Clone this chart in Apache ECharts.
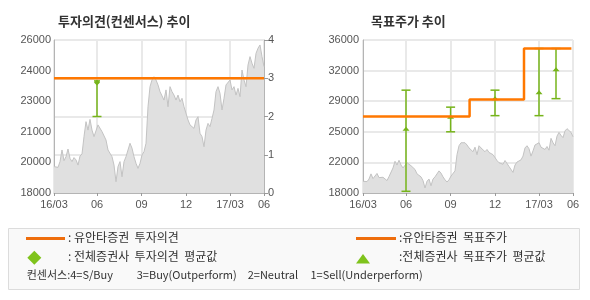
<!DOCTYPE html>
<html><head><meta charset="utf-8">
<script src="https://cdn.jsdelivr.net/npm/echarts@6/dist/echarts.min.js"></script>
<style>html,body{margin:0;padding:0;background:#fff}#c{width:590px;height:300px}</style>
</head><body><div id="c"></div>
<script>
const titles = ['투자의견(컨센서스) 추이', '목표주가 추이'];
const xTickPos = [0, 21.5, 43.8, 66, 88, 105];
const xTickLabels = ['16/03', '06', '09', '12', '17/03', '06'];
const leftPriceTicks = ['18000', '20000', '21000', '23000', '24000', '26000'];
const opinionTicks = ['0', '1', '2', '3', '4'];
const rightPriceTicks = ['18000', '22000', '25000', '29000', '32000', '36000'];
const prices = [
 19380,19460,19340,19640,20250,19690,19900,20300,19810,19640,19850,19730,19460,19930,20040,20950,
 21730,21290,21850,21290,20950,20980,21560,21470,21210,21120,20770,20250,20160,19900,19460,18590,
 19380,19640,18850,19640,19900,19990,20600,20340,19900,19550,19290,19550,19990,20160,20600,22510,
 23560,23910,24080,23910,23650,23300,23210,22860,23390,22510,23560,23300,23120,22860,23120,22770,
 22950,22510,22600,21820,21560,21470,21380,21820,21990,21120,20950,20420,21290,21640,21470,21900,
 22340,23300,23560,23210,22340,22950,23650,23560,23910,23390,23560,23120,23470,23040,24430,23910,
 23560,24690,25130,24780,24520,25300,25570,25740,25130,24610
];
const opinionLevel = [3];
const opinionSpan = [0, 105];
const consensusX = [21.5];
const consensusLow = [2];
const consensusHigh = [2.93];
const consensusAvg = [2.89];
const targetX = [0, 53.3, 80.5, 104.2];
const targetPrice = [27000, 29000, 35000];
const avgTargetX = [21.5, 43.8, 66, 88, 96.5];
const avgTargetLow = [18200, 25200, 27100, 27100, 29100];
const avgTargetHigh = [30100, 28100, 30100, 35000, 35000];
const avgTargetMean = [25500, 26900, 29100, 29800, 32500];

const ORANGE = '#ff7800', GREEN = '#76b41a', AXIS = '#b4b4b4', GRIDC = '#e9e9e9', LBL = '#555';
const numFont = 'Liberation Sans';
const krFont = '"Noto Sans CJK KR"';

const priceData = prices.map((v, i) => [i, v]);
const opinionData = opinionSpan.map(x => [x, opinionLevel[0]]);
const stepData = [];
targetPrice.forEach((p, i) => { stepData.push([targetX[i], p]); stepData.push([targetX[i + 1], p]); });
const consData = consensusX.map((x, i) => [x, consensusLow[i], consensusHigh[i], consensusAvg[i]]);
const tgtData = avgTargetX.map((x, i) => [x, avgTargetLow[i], avgTargetHigh[i], avgTargetMean[i]]);

function xAxisDef(gi) {
  return {
    type: 'value', gridIndex: gi, min: 0, max: 105,
    axisLine: { show: true, lineStyle: { color: AXIS } },
    axisTick: { show: true, customValues: xTickPos, length: 3, lineStyle: { color: '#999' } },
    axisLabel: { customValues: xTickPos, margin: 6, color: LBL, fontSize: 11, fontFamily: numFont,
      formatter: v => xTickLabels[xTickPos.indexOf(v)] },
    splitLine: { show: true, lineStyle: { color: GRIDC, width: 2 } }
  };
}

function errRender(shape) {
  return function (params, api) {
    const x = api.value(0), lo = api.value(1), hi = api.value(2), m = api.value(3);
    const a = api.coord([x, lo]), b = api.coord([x, hi]), c = api.coord([x, m]);
    const st = { stroke: GREEN, lineWidth: 1.5, fill: null };
    const topW = shape === 'diamond' ? 3 : 4.5;
    const kids = [
      { type: 'line', shape: { x1: a[0], y1: a[1], x2: b[0], y2: b[1] }, style: st },
      { type: 'line', shape: { x1: a[0] - 4.5, y1: a[1], x2: a[0] + 4.5, y2: a[1] }, style: st },
      { type: 'line', shape: { x1: b[0] - topW, y1: b[1], x2: b[0] + topW, y2: b[1] }, style: st }
    ];
    if (shape === 'diamond') {
      kids.push({ type: 'polygon', shape: { points: [[c[0], c[1] - 3], [c[0] + 3, c[1]], [c[0], c[1] + 3], [c[0] - 3, c[1]]] }, style: { fill: GREEN } });
    } else {
      kids.push({ type: 'polygon', shape: { points: [[c[0] - 3.5, c[1] + 1.5], [c[0] + 3.5, c[1] + 1.5], [c[0], c[1] - 2.5]] }, style: { fill: GREEN } });
    }
    return { type: 'group', children: kids };
  };
}

const txt = (x, y, s, size) => ({ type: 'text', left: x, top: y - size / 2 - 1,
  style: { text: s, fill: '#333', font: `${size}px ${krFont}` } });

const option = {
  animation: false,
  title: [
    { text: titles[0], left: 53, top: 10, textStyle: { fontSize: 13, fontWeight: 'bold', color: '#333', fontFamily: krFont } },
    { text: titles[1], left: 366, top: 10, textStyle: { fontSize: 13, fontWeight: 'bold', color: '#333', fontFamily: krFont } }
  ],
  grid: [
    { left: 54, top: 40, width: 210, height: 153, show: true, borderColor: AXIS, borderWidth: 1, backgroundColor: '#fff' },
    { left: 363, top: 40, width: 210, height: 153, show: true, borderColor: AXIS, borderWidth: 1, backgroundColor: '#fff' }
  ],
  xAxis: [xAxisDef(0), xAxisDef(1)],
  yAxis: [
    { type: 'value', gridIndex: 0, min: 18000, max: 26000, interval: 1600, position: 'left',
      axisLine: { show: true, lineStyle: { color: AXIS } }, axisTick: { show: false },
      axisLabel: { margin: 3, color: LBL, fontSize: 11, fontFamily: numFont, formatter: (v, i) => leftPriceTicks[i] },
      splitLine: { show: false } },
    { type: 'value', gridIndex: 0, min: 0, max: 4, interval: 1, position: 'right',
      axisLine: { show: true, lineStyle: { color: AXIS } }, axisTick: { show: true, length: 4, lineStyle: { color: '#999' } },
      axisLabel: { margin: 4, color: LBL, fontSize: 11, fontFamily: numFont, formatter: (v, i) => opinionTicks[i] },
      splitLine: { show: true, lineStyle: { color: GRIDC, width: 2 } } },
    { type: 'value', gridIndex: 1, min: 18000, max: 36000, interval: 3600, position: 'left',
      axisLine: { show: true, lineStyle: { color: AXIS } }, axisTick: { show: false },
      axisLabel: { margin: 4, color: LBL, fontSize: 11, fontFamily: numFont, formatter: (v, i) => rightPriceTicks[i] },
      splitLine: { show: true, lineStyle: { color: GRIDC, width: 2 } } }
  ],
  series: [
    { type: 'line', xAxisIndex: 0, yAxisIndex: 0, data: priceData, symbol: 'none',
      lineStyle: { color: '#c3c3c3', width: 1 }, areaStyle: { color: '#e0e0e0', opacity: 1 }, z: 2 },
    { type: 'custom', xAxisIndex: 0, yAxisIndex: 1, data: consData, renderItem: errRender('diamond'), z: 3 },
    { type: 'line', xAxisIndex: 0, yAxisIndex: 1, data: opinionData, symbol: 'none',
      lineStyle: { color: ORANGE, width: 2.5 }, z: 4 },
    { type: 'line', xAxisIndex: 1, yAxisIndex: 2, data: priceData, symbol: 'none',
      lineStyle: { color: '#c3c3c3', width: 1 }, areaStyle: { color: '#e0e0e0', opacity: 1 }, z: 2 },
    { type: 'custom', xAxisIndex: 1, yAxisIndex: 2, data: tgtData, renderItem: errRender('triangle'), z: 3 },
    { type: 'line', xAxisIndex: 1, yAxisIndex: 2, data: stepData, symbol: 'none',
      lineStyle: { color: ORANGE, width: 2.5 }, z: 4 }
  ],
  graphic: [
    { type: 'rect', shape: { x: 8.5, y: 228.5, width: 571, height: 61 }, style: { fill: '#f9f9f9', stroke: '#dcdcdc', lineWidth: 1 } },
    { type: 'line', shape: { x1: 26, y1: 238.5, x2: 65, y2: 238.5 }, style: { stroke: '#ee6d0c', lineWidth: 3 } },
    { type: 'line', shape: { x1: 356, y1: 238.5, x2: 396, y2: 238.5 }, style: { stroke: '#ee6d0c', lineWidth: 3 } },
    { type: 'polygon', shape: { points: [[34.3, 250.7], [41.3, 257.7], [34.3, 264.7], [27.3, 257.7]] }, style: { fill: '#7fc31c' } },
    { type: 'polygon', shape: { points: [[356, 263.5], [370, 263.5], [363, 254]] }, style: { fill: '#7fc31c' } },
    txt(68, 238.7, ': 유안타증권  투자의견', 12),
    txt(399, 238.7, ':유안타증권  목표주가', 12),
    txt(68, 257.7, ': 전체증권사  투자의견  평균값', 12),
    txt(399, 257.7, ':전체증권사  목표주가  평균값', 12),
    txt(26.7, 276, '컨센서스:4=S/Buy', 11),
    txt(136.7, 276, '3=Buy(Outperform)', 11),
    txt(247.7, 276, '2=Neutral', 11),
    txt(310.5, 276, '1=Sell(Underperform)', 11)
  ]
};
echarts.init(document.getElementById('c')).setOption(option);
</script></body></html>
